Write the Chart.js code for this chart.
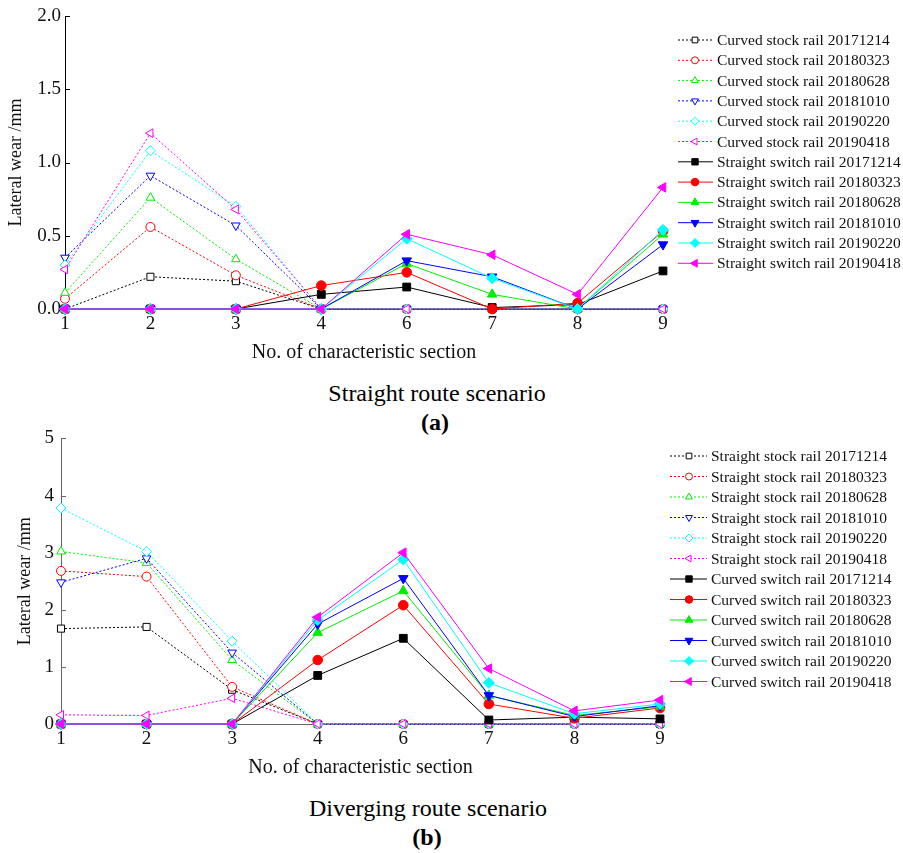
<!DOCTYPE html>
<html>
<head>
<meta charset="utf-8">
<script src="https://cdn.jsdelivr.net/npm/chart.js@4"></script>
<style>
  body { margin: 0; background: #fff; }
  #page { position: relative; width: 903px; height: 853px; font-family: 'Liberation Serif', 'Times New Roman', serif; }
  canvas { position: absolute; left: 0; }
  .caption { position: absolute; width: 400px; text-align: center; font-size: 24px; line-height: 28px; color: #000; }
  .tag { font-weight: bold; }
</style>
</head>
<body>
<div id="page">
  <canvas id="chartA" width="903" height="370" style="top:0"></canvas>
  <div class="caption" style="left:237px; top:379px">Straight route scenario</div>
  <div class="caption tag" style="left:235px; top:408px">(a)</div>
  <canvas id="chartB" width="903" height="370" style="top:420px"></canvas>
  <div class="caption" style="left:228px; top:794px">Diverging route scenario</div>
  <div class="caption tag" style="left:227px; top:823px">(b)</div>
</div>
<script>
// section numbers along x (5 is missing in the source figure)
const sections = ['1', '2', '3', '4', '6', '7', '8', '9'];
const dates = ['20171214', '20180323', '20180628', '20181010', '20190220', '20190418'];

// (a) straight route - curved stock rail, one row per date
const curvedStockA = [
  [0.00, 0.22, 0.19, 0, 0, 0, 0, 0],
  [0.07, 0.56, 0.23, 0, 0, 0, 0, 0],
  [0.11, 0.76, 0.34, 0, 0, 0, 0, 0],
  [0.35, 0.91, 0.57, 0, 0, 0, 0, 0],
  [0.30, 1.08, 0.70, 0, 0, 0, 0, 0],
  [0.27, 1.20, 0.68, 0, 0, 0, 0, 0]
];
// (a) straight route - straight switch rail
const straightSwitchA = [
  [0, 0, 0, 0.10, 0.15, 0.01, 0.03, 0.26],
  [0, 0, 0, 0.16, 0.25, 0.00, 0.04, 0.53],
  [0, 0, 0, 0.00, 0.31, 0.10, 0.00, 0.51],
  [0, 0, 0, 0.00, 0.33, 0.22, 0.00, 0.44],
  [0, 0, 0, 0.00, 0.48, 0.21, 0.00, 0.54],
  [0, 0, 0, 0.00, 0.51, 0.37, 0.10, 0.83]
];
// (b) diverging route - straight stock rail
const straightStockB = [
  [1.67, 1.70, 0.60, 0, 0, 0, 0, 0],
  [2.68, 2.58, 0.65, 0, 0, 0, 0, 0],
  [3.02, 2.82, 1.12, 0, 0, 0, 0, 0],
  [2.48, 2.90, 1.25, 0, 0, 0, 0, 0],
  [3.78, 3.02, 1.45, 0, 0, 0, 0, 0],
  [0.16, 0.15, 0.45, 0, 0, 0, 0, 0]
];
// (b) diverging route - curved switch rail
const curvedSwitchB = [
  [0, 0, 0, 0.85, 1.50, 0.07, 0.12, 0.09],
  [0, 0, 0, 1.12, 2.08, 0.35, 0.10, 0.28],
  [0, 0, 0, 1.60, 2.33, 0.50, 0.15, 0.30],
  [0, 0, 0, 1.75, 2.55, 0.50, 0.13, 0.32],
  [0, 0, 0, 1.82, 2.88, 0.72, 0.18, 0.35],
  [0, 0, 0, 1.87, 3.00, 0.97, 0.23, 0.42]
];
const yTicksA = [0, 0.5, 1.0, 1.5, 2.0];
const yTicksB = [0, 1, 2, 3, 4, 5];

const colors = ['#000000', '#ff0000', '#00ee00', '#0000ff', '#00ffff', '#ff00ff'];
const shapes = ['rect', 'circle', 'triangle', 'triangle', 'rectRot', 'triangle'];
const turns = [0, 0, 0, 180, 0, -90];
const FONT = "'Liberation Serif', 'Times New Roman', serif";

function markerSize(shape, filled) {
  if (shape === 'circle') return filled ? 4.8 : 4.5;
  return filled ? 5.5 : 5;
}

function makeSets(stockName, stockRows, switchName, switchRows) {
  const sets = [];
  stockRows.forEach((row, i) => sets.push({
    label: stockName + ' ' + dates[i], data: row,
    borderColor: colors[i], borderWidth: 1, borderDash: [2, 2],
    pointStyle: shapes[i], pointRotation: turns[i], pointRadius: markerSize(shapes[i], false),
    pointBorderColor: colors[i], pointBackgroundColor: '#ffffff', pointBorderWidth: 1
  }));
  switchRows.forEach((row, i) => sets.push({
    label: switchName + ' ' + dates[i], data: row,
    borderColor: colors[i], borderWidth: 1, borderDash: [],
    pointStyle: shapes[i], pointRotation: turns[i], pointRadius: markerSize(shapes[i], true),
    pointBorderColor: colors[i], pointBackgroundColor: colors[i], pointBorderWidth: 1
  }));
  // later series on top, like the source plot
  sets.forEach((s, i) => { s.order = -i; s.clip = false; s.tension = 0; });
  return sets;
}

// legend drawn beside the plot: short line with the marker in the middle
const sideLegend = {
  id: 'sideLegend',
  afterDraw(chart, args, o) {
    const ctx = chart.ctx;
    chart.data.datasets.forEach((ds, i) => {
      const y = o.top + i * o.step;
      ctx.save();
      ctx.strokeStyle = ds.borderColor;
      ctx.lineWidth = 1;
      ctx.setLineDash(ds.borderDash);
      ctx.beginPath();
      ctx.moveTo(o.left, y);
      ctx.lineTo(o.right, y);
      ctx.stroke();
      ctx.setLineDash([]);
      ctx.fillStyle = ds.pointBackgroundColor;
      Chart.helpers.drawPoint(ctx, { pointStyle: ds.pointStyle, rotation: ds.pointRotation, radius: ds.pointRadius - 1, borderWidth: 1 }, o.mark, y);
      ctx.fillStyle = '#111';
      ctx.font = o.font;
      ctx.textBaseline = 'middle';
      ctx.fillText(ds.label, o.text, y + 1);
      ctx.restore();
    });
  }
};

// tick marks pointing into the plot
const innerTicks = {
  id: 'innerTicks',
  beforeDatasetsDraw(chart, args, o) {
    const { ctx, chartArea, scales } = chart;
    ctx.save();
    ctx.strokeStyle = o.color;
    ctx.lineWidth = 1;
    ctx.beginPath();
    scales.y.ticks.forEach((t, i) => {
      const py = Math.round(scales.y.getPixelForTick(i)) + 0.5;
      ctx.moveTo(chartArea.left, py);
      ctx.lineTo(chartArea.left + o.len, py);
    });
    scales.x.ticks.forEach((t, i) => {
      const px = Math.round(scales.x.getPixelForTick(i)) + 0.5;
      ctx.moveTo(px, chartArea.bottom);
      ctx.lineTo(px, chartArea.bottom - o.len);
    });
    ctx.stroke();
    ctx.restore();
  }
};

function makeChart(id, sets, yTicks, decimals, look) {
  return new Chart(document.getElementById(id), {
    type: 'line',
    data: { labels: sections, datasets: sets },
    plugins: [sideLegend, innerTicks],
    options: {
      responsive: false,
      animation: false,
      events: [],
      layout: { padding: { left: 0, top: look.top, right: 903 - look.right, bottom: 0 } },
      plugins: {
        legend: { display: false },
        tooltip: { enabled: false },
        sideLegend: look.legend,
        innerTicks: { color: look.axis, len: 5 }
      },
      scales: {
        x: {
          type: 'category',
          offset: false,
          grid: { drawOnChartArea: false, drawTicks: false },
          border: { color: look.axis, width: 1 },
          ticks: { color: '#111', font: { family: FONT, size: 19 }, padding: 4, maxRotation: 0, autoSkip: false },
          title: { display: true, text: 'No. of characteristic section', color: '#111',
                   font: { family: FONT, size: 20 }, padding: { top: 0, bottom: look.xTitlePad } },
          afterFit: s => { s.height = look.xHeight; }
        },
        y: {
          min: yTicks[0],
          max: yTicks[yTicks.length - 1],
          afterBuildTicks: s => { s.ticks = yTicks.map(v => ({ value: v })); },
          grid: { drawOnChartArea: false, drawTicks: false },
          border: { color: look.axis, width: 1 },
          ticks: { color: '#111', font: { family: FONT, size: 19 }, padding: look.yTickPad,
                   callback: v => v.toFixed(decimals) },
          title: { display: true, text: 'Lateral wear /mm', color: '#111',
                   font: { family: FONT, size: 18 }, padding: { top: look.yTitlePad, bottom: 0 } },
          afterFit: s => { s.width = look.left; }
        }
      }
    }
  });
}

makeChart('chartA',
  makeSets('Curved stock rail', curvedStockA, 'Straight switch rail', straightSwitchA),
  yTicksA, 1,
  { top: 16, left: 65, right: 663, xHeight: 61, xTitlePad: 5, yTickPad: 4, yTitlePad: 5, axis: '#000',
    legend: { left: 678, right: 713, mark: 695, text: 717, top: 40, step: 20.3, font: '15.5px ' + FONT } });

makeChart('chartB',
  makeSets('Straight stock rail', straightStockB, 'Curved switch rail', curvedSwitchB),
  yTicksB, 0,
  { top: 10, left: 61, right: 660, xHeight: 66, xTitlePad: 10, yTickPad: 7, yTitlePad: 14, axis: '#666',
    legend: { left: 670, right: 707, mark: 689, text: 711, top: 36, step: 20.5, font: '15.5px ' + FONT } });
</script>
</body>
</html>
